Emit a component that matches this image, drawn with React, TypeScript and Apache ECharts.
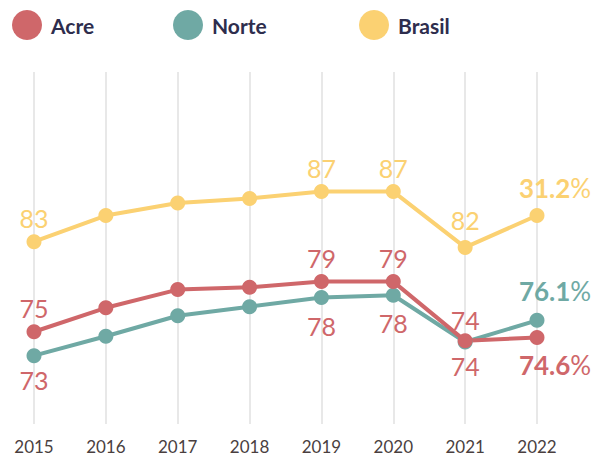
import React, { useEffect, useRef } from "react";
import * as echarts from "echarts";

const years = ["2015", "2016", "2017", "2018", "2019", "2020", "2021", "2022"];
const acre = [74.7, 76.8, 78.4, 78.6, 79.1, 79.1, 73.9, 74.2];
const norte = [72.6, 74.3, 76.1, 76.9, 77.7, 77.9, 73.8, 75.7];
const brasil = [82.6, 84.9, 86.0, 86.4, 87.0, 87.0, 82.1, 84.9];
const acreLabels = ["75", "", "", "", "79", "79", "74", "74.6%"];
const norteLabels = ["73", "", "", "", "78", "78", "74", "76.1%"];
const brasilLabels = ["83", "", "", "", "87", "87", "82", "31.2%"];

const RED = "#cf676a";
const TEAL = "#6fa9a4";
const YELLOW = "#fbd172";
const FONT = "Lato";

function makeData(
  values: number[],
  labels: string[],
  positions: string[],
  colors: string[],
  extraOffsets: number[]
) {
  return values.map((v, i) => {
    const text = labels[i];
    const last = i === values.length - 1;
    return {
      value: v,
      label: {
        show: text !== "",
        position: positions[i],
        distance: 4,
        offset: [last ? 18 : 0, extraOffsets[i]],
        color: colors[i],
        fontFamily: FONT,
        fontSize: 25,
        formatter: () => {
          if (text.endsWith("%")) {
            return `{b|${text.slice(0, -1)}}{p|%}`;
          }
          return text;
        },
        rich: {
          b: { fontFamily: FONT, fontSize: 26, fontWeight: "bold", color: colors[i] },
          p: { fontFamily: FONT, fontSize: 26, fontWeight: "normal", color: colors[i] },
        },
      },
    };
  });
}

export default function App() {
  const ref = useRef<HTMLDivElement>(null);
  useEffect(() => {
    document.body.style.margin = "0";
    if (!ref.current) return;
    const chart = echarts.init(ref.current, null, { renderer: "svg" });
    const legendBase = {
      top: 10,
      padding: 0,
      icon: "circle",
      itemWidth: 30,
      itemHeight: 30,
      selectedMode: false,
      textStyle: {
        fontFamily: FONT,
        fontSize: 21,
        fontWeight: "bold",
        color: "#2e2d4d",
        padding: [0, 0, 0, 4],
      },
    };
    chart.setOption({
      animation: false,
      legend: [
        { ...legendBase, left: 12, data: ["Acre"] },
        { ...legendBase, left: 173, data: ["Norte"] },
        { ...legendBase, left: 359, data: ["Brasil"] },
      ],
      grid: { left: 34, right: 602 - 537, top: 72, bottom: 33 },
      xAxis: {
        type: "category",
        data: years,
        boundaryGap: false,
        axisLine: { show: false },
        axisTick: { show: false },
        axisLabel: {
          fontFamily: FONT,
          fontSize: 17,
          color: "#4a3f3f",
          margin: 14,
        },
        splitLine: { show: true, lineStyle: { color: "#e8e8e8", width: 2 } },
      },
      yAxis: {
        type: "value",
        min: 66.6,
        max: 97.5,
        show: false,
        splitLine: { show: false },
      },
      series: [
        {
          name: "Brasil",
          type: "line",
          symbol: "circle",
          symbolSize: 15,
          color: YELLOW,
          lineStyle: { width: 4, color: YELLOW },
          data: makeData(
            brasil,
            brasilLabels,
            brasil.map(() => "top"),
            brasil.map(() => YELLOW),
            [0, 0, 0, 0, 0, 0, -3, -3]
          ),
        },
        {
          name: "Norte",
          type: "line",
          symbol: "circle",
          symbolSize: 15,
          color: TEAL,
          lineStyle: { width: 4, color: TEAL },
          data: makeData(
            norte,
            norteLabels,
            norte.map((_, i) => (i === norte.length - 1 ? "top" : "bottom")),
            norte.map((_, i) => (i === norte.length - 1 ? TEAL : RED)),
            [0, 0, 0, 0, 4, 4, 0, -5]
          ),
        },
        {
          name: "Acre",
          type: "line",
          symbol: "circle",
          symbolSize: 15,
          color: RED,
          lineStyle: { width: 4, color: RED },
          data: makeData(
            acre,
            acreLabels,
            acre.map((_, i) => (i === acre.length - 1 ? "bottom" : "top")),
            acre.map(() => RED),
            [0, 0, 0, 0, 0, 0, 3, 3]
          ),
        },
      ],
    });
    return () => chart.dispose();
  }, []);
  return <div ref={ref} style={{ width: 602, height: 457 }} />;
}
